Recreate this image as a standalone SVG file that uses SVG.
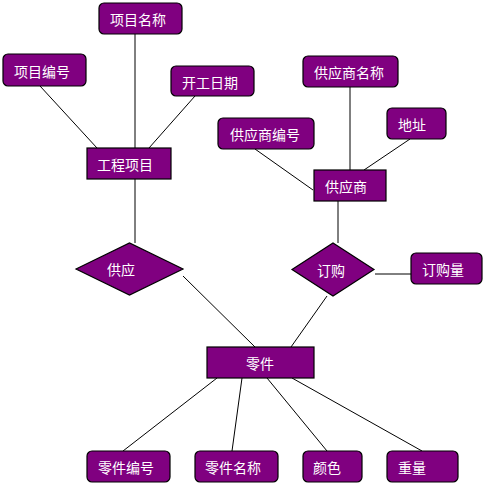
<svg xmlns="http://www.w3.org/2000/svg" width="486" height="486" viewBox="0 0 486 486">
<style>
.e{fill:#800080;stroke:#000;stroke-width:1.2}
.t{fill:#fff;font-family:"Noto Sans CJK SC","Noto Sans",sans-serif;font-size:14px;dominant-baseline:central}
.c{fill:none;stroke:#000;stroke-width:1}
</style>
<rect width="486" height="486" fill="#fff"/>
<g id="connectors" class="c">
<line x1="135" y1="34" x2="135" y2="148"/>
<line x1="40" y1="86" x2="97" y2="148"/>
<line x1="195" y1="96" x2="149" y2="148"/>
<line x1="135" y1="179" x2="135" y2="243"/>
<line x1="350" y1="87" x2="350" y2="170"/>
<line x1="410" y1="139" x2="364" y2="170"/>
<line x1="255" y1="149" x2="313" y2="190"/>
<line x1="338" y1="201" x2="338" y2="243"/>
<line x1="375" y1="274" x2="411" y2="274"/>
<line x1="183" y1="276" x2="255" y2="347"/>
<line x1="327" y1="296" x2="291" y2="347"/>
<line x1="217" y1="378" x2="123" y2="451"/>
<line x1="242" y1="378" x2="232" y2="451"/>
<line x1="267" y1="378" x2="327" y2="451"/>
<line x1="292" y1="378" x2="422" y2="451"/>
</g>
<g id="n_xmmc"><rect class="e" x="99" y="3" width="83" height="31" rx="5"/><text class="t" x="110" y="19">项目名称</text></g>
<g id="n_xmbh"><rect class="e" x="3" y="54" width="83" height="32" rx="5"/><text class="t" x="14" y="70.5">项目编号</text></g>
<g id="n_kgrq"><rect class="e" x="171" y="66" width="83" height="30" rx="5"/><text class="t" x="182" y="81.5">开工日期</text></g>
<g id="n_gcxm"><rect class="e" x="87" y="148" width="84" height="31"/><text class="t" x="97" y="163.5">工程项目</text></g>
<g id="n_gysmc"><rect class="e" x="303" y="56" width="95" height="31" rx="5"/><text class="t" x="314" y="72">供应商名称</text></g>
<g id="n_dz"><rect class="e" x="387" y="108" width="59" height="31" rx="5"/><text class="t" x="398" y="124">地址</text></g>
<g id="n_gysbh"><rect class="e" x="218" y="118" width="96" height="31" rx="5"/><text class="t" x="230" y="134">供应商编号</text></g>
<g id="n_gys"><rect class="e" x="314" y="170" width="72" height="31"/><text class="t" x="325" y="186">供应商</text></g>
<g id="n_gy"><polygon class="e" points="76,269 129.5,243 183,269 129.5,295"/><text class="t" x="107" y="269">供应</text></g>
<g id="n_dg"><polygon class="e" points="292,269.5 333,243 374,269.5 333,296"/><text class="t" x="317" y="269.5">订购</text></g>
<g id="n_dgl"><rect class="e" x="411" y="253" width="71" height="31" rx="5"/><text class="t" x="422" y="269">订购量</text></g>
<g id="n_lj"><rect class="e" x="207" y="347" width="107" height="31"/><text class="t" x="246" y="362.5">零件</text></g>
<g id="n_ljbh"><rect class="e" x="87" y="451" width="83" height="31" rx="5"/><text class="t" x="98" y="467">零件编号</text></g>
<g id="n_ljmc"><rect class="e" x="195" y="451" width="83" height="31" rx="5"/><text class="t" x="205" y="467">零件名称</text></g>
<g id="n_ys"><rect class="e" x="303" y="451" width="59" height="31" rx="5"/><text class="t" x="313" y="467">颜色</text></g>
<g id="n_zl"><rect class="e" x="387" y="451" width="71" height="31" rx="5"/><text class="t" x="398" y="467">重量</text></g>
</svg>
